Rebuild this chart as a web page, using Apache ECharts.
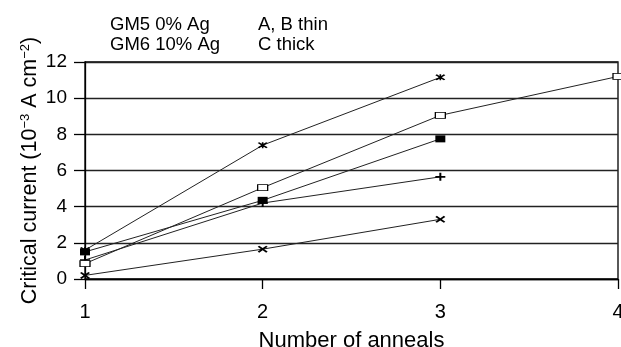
<!DOCTYPE html>
<html>
<head>
<meta charset="utf-8">
<script src="https://cdn.jsdelivr.net/npm/echarts@6/dist/echarts.min.js"></script>
<style>
  html, body { margin: 0; padding: 0; background: #fff; }
  #chart { width: 621px; height: 347px; }
</style>
</head>
<body>
<div id="chart"></div>
<script>
// Number of anneals on the x axis
const annealCounts = [1, 2, 3, 4];

// Critical current (10^-3 A cm^-2) for each sample
const starValues = [1.6, 7.4, 11.15];
const openSquareValues = [0.85, 5.05, 9.05, 11.2];
const filledSquareValues = [1.5, 4.35, 7.75];
const plusValues = [1.05, 4.2, 5.65];
const crossValues = [0.2, 1.65, 3.3];

// Axis ranges
const xRange = [1, 4];
const yRange = [0, 12];
const yStep = 2;

// Notes above the plot
const noteLeft = ['GM5 0% Ag', 'GM6 10% Ag'];
const noteRight = ['A, B thin', 'C thick'];

const FONT = '"Liberation Sans", Arial, Helvetica, sans-serif';

const crossPath = 'M0,1.5L1.5,0L5,3.5L8.5,0L10,1.5L6.5,5L10,8.5L8.5,10L5,6.5L1.5,10L0,8.5L3.5,5Z';
const symbols = {
  star: 'path://' + crossPath + 'M4.2,0H5.8V10H4.2Z',
  cross: 'path://' + crossPath,
  plus: 'path://M4,0H6V4H10V6H6V10H4V6H0V4H4Z'
};

function pairs(values) {
  return values.map((v, i) => [annealCounts[i], v]);
}

function lineSeries(values, symbol, size, filled) {
  return {
    type: 'line',
    data: pairs(values),
    symbol: symbol,
    symbolSize: size,
    showSymbol: true,
    animation: false,
    lineStyle: { color: '#222', width: 1 },
    itemStyle: filled
      ? { color: '#000', borderColor: '#000', borderWidth: 0 }
      : { color: '#fff', borderColor: '#000', borderWidth: 1 },
    z: 3
  };
}

const chart = echarts.init(document.getElementById('chart'), null, { renderer: 'canvas' });

chart.setOption({
  backgroundColor: '#fff',
  animation: false,
  grid: {
    left: 85, right: 3, top: 62, bottom: 68,
    outerBoundsMode: 'none',
    containLabel: false,
    show: true, borderColor: '#000', borderWidth: 1.3, backgroundColor: 'transparent'
  },
  xAxis: {
    type: 'value',
    min: xRange[0], max: xRange[1], interval: 1,
    name: 'Number of anneals',
    nameLocation: 'middle',
    nameGap: 51,
    nameMoveOverlap: false,
    nameTextStyle: { fontFamily: FONT, fontSize: 22, color: '#000' },
    axisLine: { show: true, lineStyle: { color: '#000', width: 1.3 } },
    axisTick: { show: true, length: 10, lineStyle: { color: '#000', width: 1.3 } },
    axisLabel: { fontFamily: FONT, fontSize: 20, color: '#000', margin: 23 },
    splitLine: { show: false }
  },
  yAxis: {
    type: 'value',
    min: yRange[0], max: yRange[1], interval: yStep,
    name: 'Critical current (10{sup|−3} A cm{sup|−2})',
    nameLocation: 'middle',
    nameGap: 43,
    nameMoveOverlap: false,
    nameTextStyle: {
      fontFamily: FONT, fontSize: 21.5, color: '#000',
      rich: {
        sup: { fontFamily: FONT, fontSize: 13, color: '#000', verticalAlign: 'top', padding: [0, 0, 10, 0] }
      }
    },
    axisLine: { show: true, lineStyle: { color: '#000', width: 1.3 } },
    axisTick: { show: true, length: 11, lineStyle: { color: '#000', width: 1.3 } },
    axisLabel: { fontFamily: FONT, fontSize: 19, color: '#000', margin: 18 },
    splitLine: { show: true, lineStyle: { color: '#222', width: 1.3 } }
  },
  graphic: [
    { type: 'text', left: 110, top: 15, style: { text: noteLeft[0], fontFamily: FONT, fontSize: 18.5, fill: '#000' } },
    { type: 'text', left: 110, top: 35, style: { text: noteLeft[1], fontFamily: FONT, fontSize: 18.5, fill: '#000' } },
    { type: 'text', left: 258, top: 15, style: { text: noteRight[0], fontFamily: FONT, fontSize: 18.5, fill: '#000' } },
    { type: 'text', left: 258, top: 35, style: { text: noteRight[1], fontFamily: FONT, fontSize: 18.5, fill: '#000' } }
  ],
  series: [
    lineSeries(crossValues, symbols.cross, [10, 7], true),
    lineSeries(plusValues, symbols.plus, [10, 8], true),
    lineSeries(openSquareValues, 'rect', [10, 6], false),
    lineSeries(filledSquareValues, 'rect', [10, 7], true),
    lineSeries(starValues, symbols.star, [10, 6], true)
  ]
});
</script>
</body>
</html>
